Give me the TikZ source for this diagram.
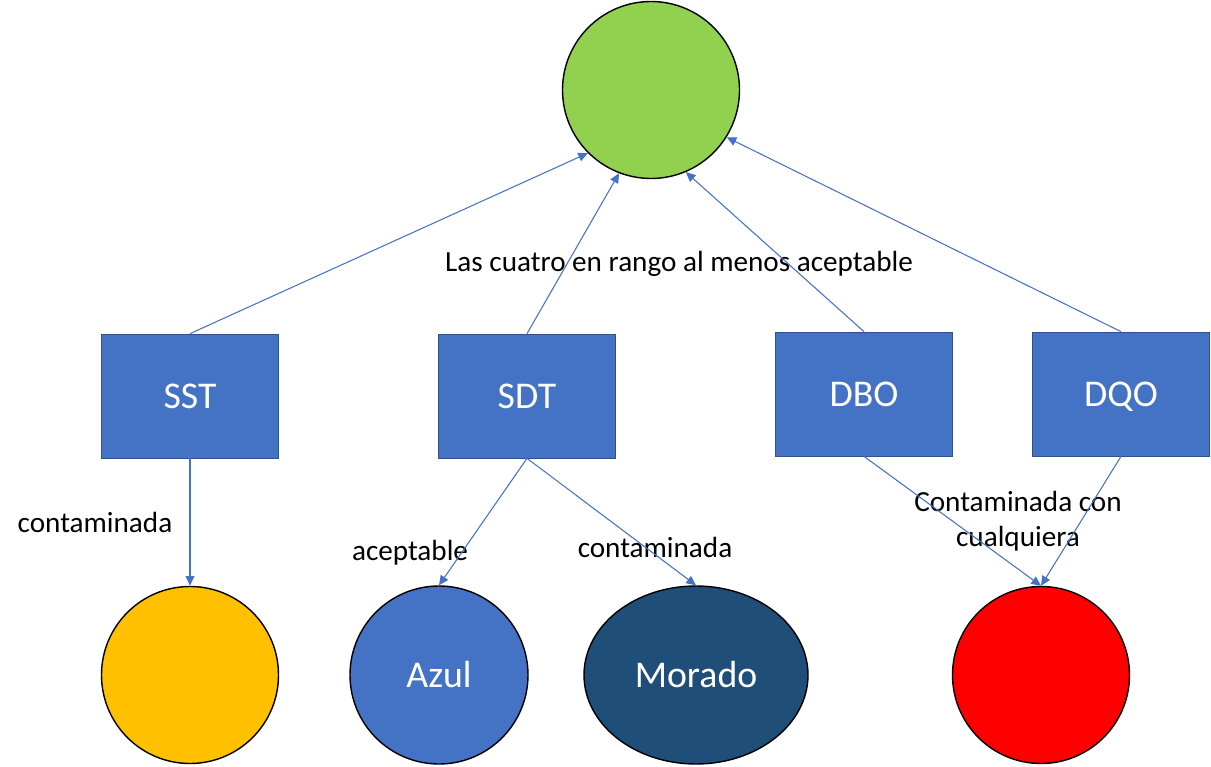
\documentclass[tikz,border=0pt]{standalone}
\usepackage{fontspec}
\setmainfont{Carlito}
\usepackage{tikz}
\usetikzlibrary{shapes.geometric,arrows.meta,positioning}
\definecolor{cGreen}{RGB}{146,208,80}
\definecolor{cBox}{RGB}{68,114,196}
\definecolor{cBoxLine}{RGB}{47,82,143}
\definecolor{cOrange}{RGB}{255,192,0}
\definecolor{cMorado}{RGB}{31,78,121}
\definecolor{cRed}{RGB}{255,0,0}
\tikzset{
  paramnode/.style={rectangle,draw=cBoxLine,fill=cBox,text=white,
                    minimum width=3.54cm,minimum height=2.48cm,
                    text height=13.8pt,text depth=0pt,
                    font=\fontsize{21.5}{25}\selectfont},
  resnode/.style={circle,draw=black,thick,minimum size=3.54cm,
                  text=white,font=\fontsize{21.5}{25}\selectfont},
  lbl/.style={font=\fontsize{16.6}{20}\selectfont,align=center,inner sep=1pt},
  arr/.style={-{Triangle[length=5.5pt,width=5pt]},line width=0.6pt,color=cBox}
}
\begin{document}
\begin{tikzpicture}
  \useasboundingbox (0,0) rectangle (24.22,15.32);
  % top result
  \node[resnode,fill=cGreen] (verde) at (13.02,13.52) {};
  % parameters
  \node[paramnode] (sst) at (3.80,7.40) {SST};
  \node[paramnode] (sdt) at (10.54,7.40) {SDT};
  \node[paramnode] (dbo) at (17.28,7.44) {DBO};
  \node[paramnode] (dqo) at (22.42,7.44) {DQO};
  % bottom results
  \node[resnode,fill=cOrange] (amarillo) at (3.80,1.82) {};
  \node[resnode,fill=cBox,minimum size=3.56cm] (azul) at (8.78,1.82) {Azul};
  \node[resnode,ellipse,fill=cMorado,minimum width=4.48cm,minimum height=3.56cm] (morado) at (13.92,1.82) {Morado};
  \node[resnode,fill=cRed] (rojo) at (20.82,1.82) {};
  % labels
  \node[lbl] (lcuatro) at (13.58,10.04) {Las cuatro en rango al menos aceptable};
  \node[lbl] (lsst) at (1.90,4.88) {contaminada};
  \node[lbl] (lazul) at (8.20,4.26) {aceptable};
  \node[lbl] (lmorado) at (13.10,4.38) {contaminada};
  \node[lbl] (lrojo) at (20.36,4.90) {Contaminada con\\cualquiera};
  % connectors
  \draw[arr] (sst.north) -- (verde.225);
  \draw[arr] (sdt.north) -- (verde.249);
  \draw[arr] (dbo.north) -- (verde.293);
  \draw[arr] (dqo.north) -- (verde.328);
  \draw[arr] (sst.south) -- (amarillo.north);
  \draw[arr] (sdt.south) -- (azul.north);
  \draw[arr] (sdt.south) -- (morado.north);
  \draw[arr] (dbo.south) -- (rojo.north);
  \draw[arr] (dqo.south) -- (rojo.north);
\end{tikzpicture}
\end{document}
